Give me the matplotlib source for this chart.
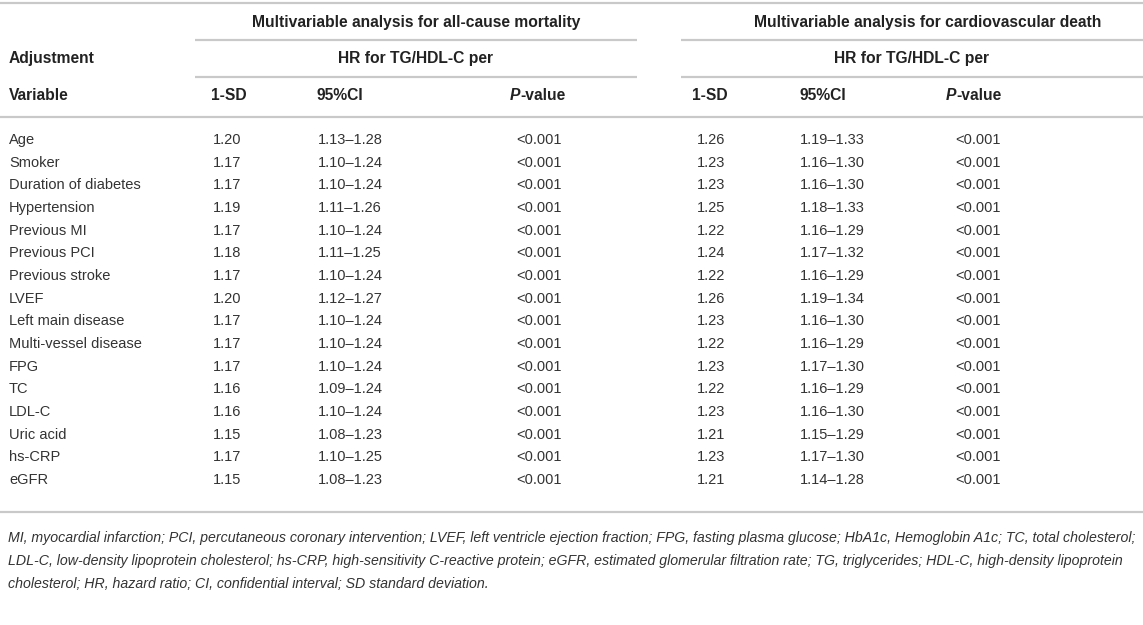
import matplotlib
matplotlib.use('Agg')
import matplotlib.pyplot as plt

# ---------------- data ----------------
variables = ["Age", "Smoker", "Duration of diabetes", "Hypertension", "Previous MI",
             "Previous PCI", "Previous stroke", "LVEF", "Left main disease",
             "Multi-vessel disease", "FPG", "TC", "LDL-C", "Uric acid", "hs-CRP", "eGFR"]
sd_all = ["1.20", "1.17", "1.17", "1.19", "1.17", "1.18", "1.17", "1.20", "1.17",
          "1.17", "1.17", "1.16", "1.16", "1.15", "1.17", "1.15"]
ci_all = ["1.13–1.28", "1.10–1.24", "1.10–1.24", "1.11–1.26", "1.10–1.24", "1.11–1.25",
          "1.10–1.24", "1.12–1.27", "1.10–1.24", "1.10–1.24", "1.10–1.24", "1.09–1.24",
          "1.10–1.24", "1.08–1.23", "1.10–1.25", "1.08–1.23"]
p_all = ["<0.001"] * 16
sd_cv = ["1.26", "1.23", "1.23", "1.25", "1.22", "1.24", "1.22", "1.26", "1.23",
         "1.22", "1.23", "1.22", "1.23", "1.21", "1.23", "1.21"]
ci_cv = ["1.19–1.33", "1.16–1.30", "1.16–1.30", "1.18–1.33", "1.16–1.29", "1.17–1.32",
         "1.16–1.29", "1.19–1.34", "1.16–1.30", "1.16–1.29", "1.17–1.30", "1.16–1.29",
         "1.16–1.30", "1.15–1.29", "1.17–1.30", "1.14–1.28"]
p_cv = ["<0.001"] * 16

group_titles = ["Multivariable analysis for all-cause mortality",
                "Multivariable analysis for cardiovascular death"]
sub_title = "HR for TG/HDL-C per"
footnote = [
    "MI, myocardial infarction; PCI, percutaneous coronary intervention; LVEF, left ventricle ejection fraction; FPG, fasting plasma glucose; HbA1c, Hemoglobin A1c; TC, total cholesterol;",
    "LDL-C, low-density lipoprotein cholesterol; hs-CRP, high-sensitivity C-reactive protein; eGFR, estimated glomerular filtration rate; TG, triglycerides; HDL-C, high-density lipoprotein",
    "cholesterol; HR, hazard ratio; CI, confidential interval; SD standard deviation.",
]

# ---------------- layout ----------------
W, H = 1143, 625
FONT = "Liberation Sans"
BODY_C = "#333333"
HEAD_C = "#222222"
LINE_C = "#c9c9c9"

fig = plt.figure(figsize=(W / 100, H / 100), dpi=100)
ax = fig.add_axes([0, 0, 1, 1])
ax.set_xlim(0, W)
ax.set_ylim(H, 0)
ax.axis('off')
renderer = fig.canvas.get_renderer()


def text_w(s, size, **kw):
    t = ax.text(0, 0, s, fontsize=size, family=FONT, **kw)
    w = t.get_window_extent(renderer).width
    t.remove()
    return w


def fit(s, target, **kw):
    return 10 * target / text_w(s, 10, **kw)


head_fs = fit(group_titles[0], 329, weight='bold')
body_fs = fit("Duration of diabetes", 131)
foot_fs = fit(footnote[0], 1130, style='italic')


def txt(x, y, s, ha='left', bold=False, italic=False, size=None, color=None):
    ax.text(x, y, s, ha=ha, va='center', family=FONT,
            fontsize=size if size else (head_fs if bold else body_fs),
            weight='bold' if bold else 'normal',
            style='italic' if italic else 'normal',
            color=color if color else (HEAD_C if bold else BODY_C))


def pvalue_header(xc, y):
    w1 = text_w("P", head_fs, weight='bold', style='italic')
    w2 = text_w("-value", head_fs, weight='bold')
    x0 = xc - (w1 + w2) / 2
    txt(x0, y, "P", bold=True, italic=True)
    txt(x0 + w1, y, "-value", bold=True)


def hline(y, x0=0, x1=W):
    ax.plot([x0, x1], [y, y], color=LINE_C, lw=1.6, solid_capstyle='butt')


# rules
hline(3)
for seg in [(195, 637), (681, W)]:
    hline(40, *seg)
    hline(77, *seg)
hline(117)
hline(512)

# headers
txt(416, 23, group_titles[0], ha='center', bold=True)
txt(928, 23, group_titles[1], ha='center', bold=True)
txt(9, 59, "Adjustment", bold=True)
txt(415, 59, sub_title, ha='center', bold=True)
txt(912, 59, sub_title, ha='center', bold=True)
txt(9, 96, "Variable", bold=True)
txt(229, 96, "1-SD", ha='center', bold=True)
txt(340, 96, "95%CI", ha='center', bold=True)
pvalue_header(538, 96)
txt(710, 96, "1-SD", ha='center', bold=True)
txt(823, 96, "95%CI", ha='center', bold=True)
pvalue_header(974, 96)

# body rows
y0, y1 = 140, 480
step = (y1 - y0) / (len(variables) - 1)
for i, v in enumerate(variables):
    y = y0 + i * step
    txt(9, y, v)
    txt(227, y, sd_all[i], ha='center')
    txt(318, y, ci_all[i])
    txt(539, y, p_all[i], ha='center')
    txt(711, y, sd_cv[i], ha='center')
    txt(800, y, ci_cv[i])
    txt(978, y, p_cv[i], ha='center')

# footnote
for k, line in enumerate(footnote):
    txt(8, 538 + k * 23, line, italic=True, size=foot_fs)

fig.savefig("out.png", dpi=100)
